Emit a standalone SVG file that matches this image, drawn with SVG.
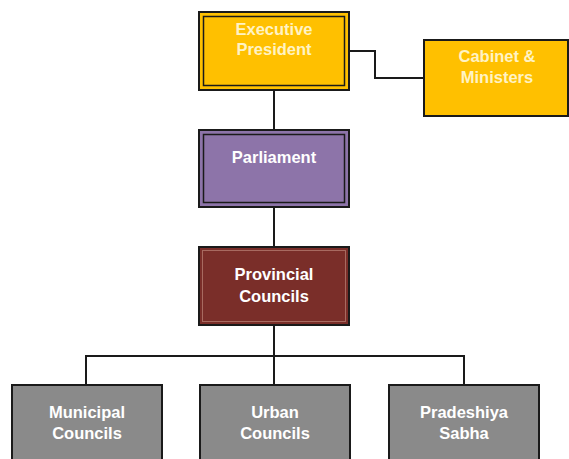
<svg xmlns="http://www.w3.org/2000/svg" width="569" height="459" viewBox="0 0 569 459">
<style>
.t{font-family:"Liberation Sans",Arial,sans-serif;font-weight:bold;font-size:16.5px;text-anchor:middle;fill:#ffffff}
.ty{fill:#fff3c4}
.ln{fill:none;stroke:#1a1a1a;stroke-width:2}
.o{stroke:#1a1a1a;stroke-width:2}
.i{fill:none;stroke:#1a1a1a;stroke-width:1.5}
</style>
<rect width="569" height="459" fill="#ffffff"/>
<g id="connectors">
<path class="ln" d="M274 90V130M274 207V247M274 325V356M86 385V356H464V385M274 356V385"/>
<path class="ln" d="M349 51H375V78H424"/>
</g>
<g id="exec">
<rect class="o" x="199" y="12" width="150" height="78" fill="#ffc000"/>
<rect class="i" x="203.5" y="16.5" width="141" height="69"/>
<text class="t ty" x="274" y="35">Executive</text>
<text class="t ty" x="274" y="55">President</text>
</g>
<g id="cabinet">
<rect class="o" x="424" y="40" width="144" height="76" fill="#ffc000"/>
<text class="t ty" x="497" y="62">Cabinet &amp;</text>
<text class="t ty" x="497" y="83">Ministers</text>
</g>
<g id="parliament">
<rect class="o" x="199" y="130" width="150" height="77" fill="#8d74a9"/>
<rect class="i" x="203.5" y="134.5" width="141" height="68"/>
<text class="t" x="274" y="163">Parliament</text>
</g>
<g id="provincial">
<rect class="o" x="199" y="247" width="150" height="78" fill="#7a2e29"/>
<rect x="202.5" y="250.5" width="143" height="71" fill="none" stroke="#a86a60" stroke-width="1"/>
<text class="t" x="274" y="280">Provincial</text>
<text class="t" x="274" y="302">Councils</text>
</g>
<g id="municipal">
<rect class="o" x="12" y="385" width="150" height="80" fill="#8a8a8a"/>
<text class="t" x="87" y="418">Municipal</text>
<text class="t" x="87" y="439">Councils</text>
</g>
<g id="urban">
<rect class="o" x="200" y="385" width="150" height="80" fill="#8a8a8a"/>
<text class="t" x="275" y="418">Urban</text>
<text class="t" x="275" y="439">Councils</text>
</g>
<g id="pradeshiya">
<rect class="o" x="389" y="385" width="150" height="80" fill="#8a8a8a"/>
<text class="t" x="464" y="418">Pradeshiya</text>
<text class="t" x="464" y="439">Sabha</text>
</g>
</svg>
